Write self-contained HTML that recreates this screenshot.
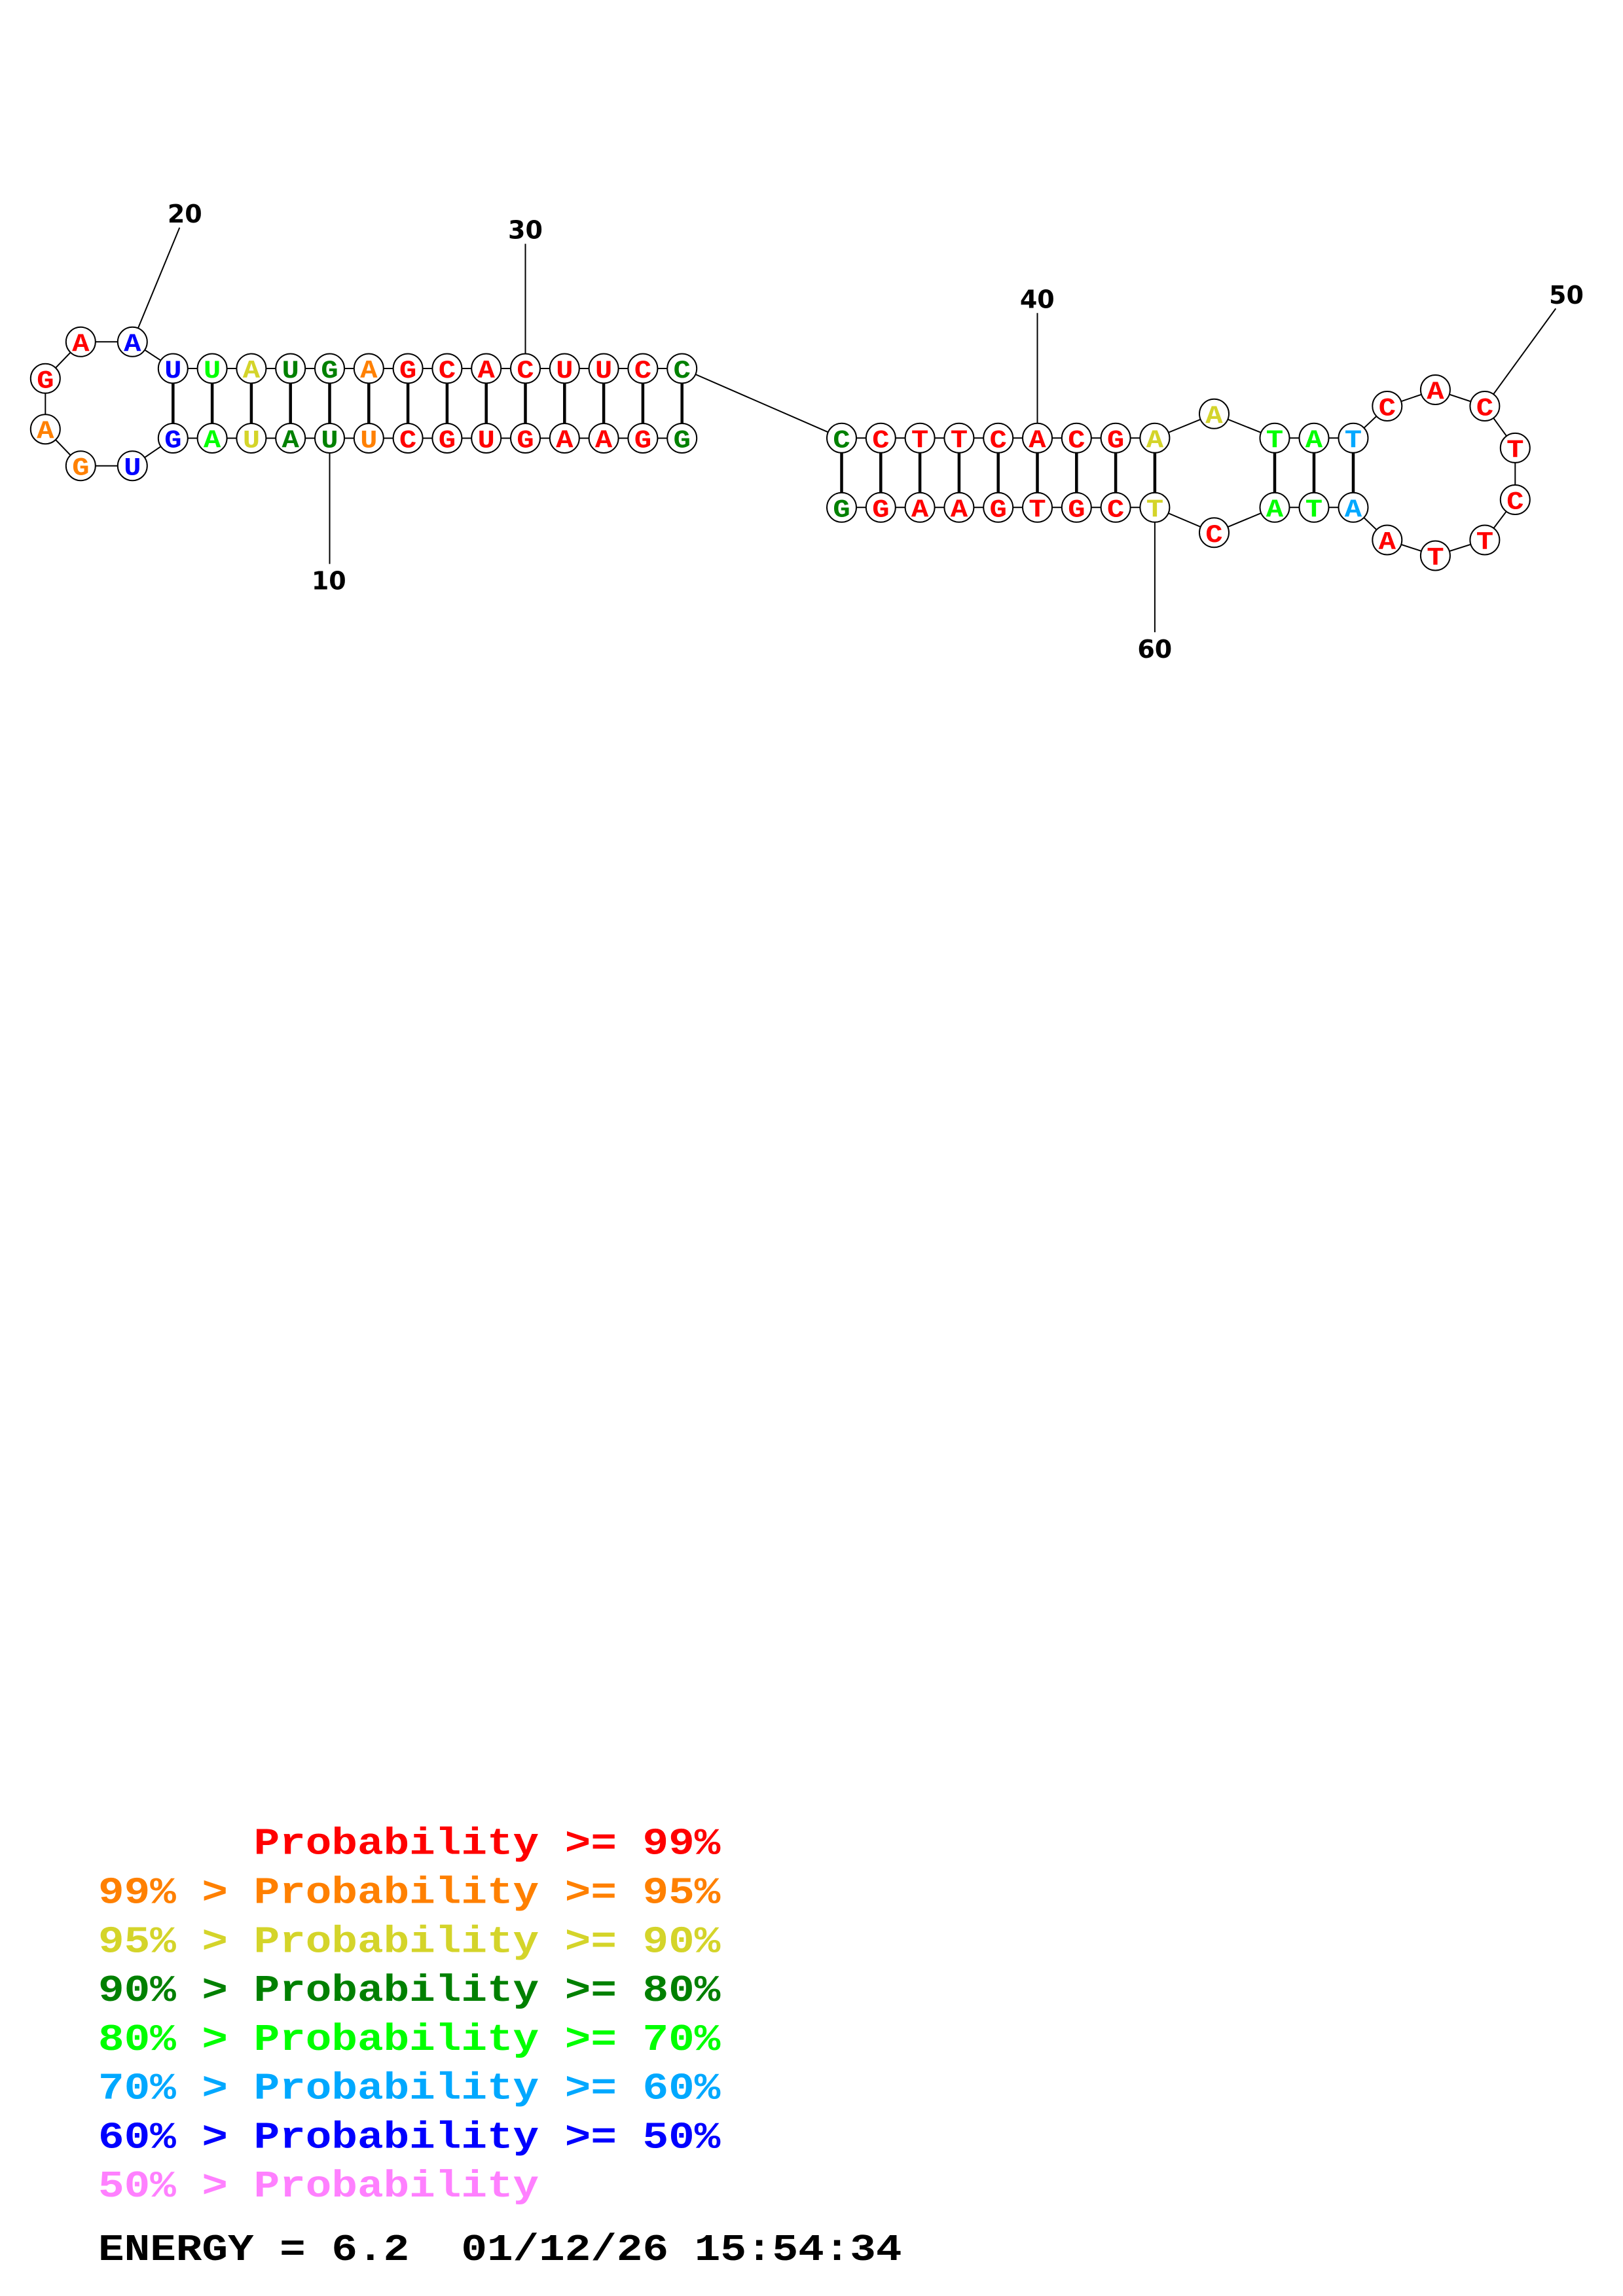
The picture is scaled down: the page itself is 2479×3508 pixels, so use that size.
<!DOCTYPE html>
<html><head><meta charset="utf-8"><style>
html,body{margin:0;padding:0;background:#fff;}
svg{display:block;}
.n{font-family:"Liberation Mono","DejaVu Sans Mono",monospace;font-weight:bold;font-size:44px;text-anchor:middle;}
.lb{font-family:"DejaVu Sans","Liberation Sans",sans-serif;font-weight:bold;font-size:38px;text-anchor:middle;fill:#000;}
.lg{font-family:"Liberation Mono","DejaVu Sans Mono",monospace;font-weight:bold;font-size:66px;white-space:pre;}
</style></head><body>
<svg width="2479" height="3508" viewBox="0 0 2479 3508" xmlns="http://www.w3.org/2000/svg">
<rect width="2479" height="3508" fill="#fff"/>
<g stroke="#000" stroke-width="2" fill="none">
<polyline points="1041.7,669.5 264.3,669.5 202.3,711.7 123.3,711.7 69.3,655.7 69.3,578.3 123.3,522.3 202.3,522.3 264.3,563 1041.7,563 1285.5,669.3 1763.9,669.3 1854.5,632.3 1947,669.3 2067,669.3 2118.8,620.5 2192.4,595.5 2267.9,620.5 2314.3,684.4 2314.3,763.5 2267.9,825 2192.4,849 2118.8,825 2067,775.3 1947,775.3 1854.5,813.8 1763.9,775.3 1285.5,775.3"/>
<line x1="503.5" y1="669.5" x2="503.5" y2="861.6"/>
<line x1="274.3" y1="347.7" x2="202.3" y2="522.3"/>
<line x1="802.5" y1="372.5" x2="802.5" y2="563"/>
<line x1="1584.5" y1="478.3" x2="1584.5" y2="669.3"/>
<line x1="2376.3" y1="471.4" x2="2267.9" y2="620.5"/>
<line x1="1763.9" y1="775.3" x2="1763.9" y2="966"/>
</g>
<g stroke="#000" stroke-width="4.5">
<line x1="264.3" y1="563" x2="264.3" y2="669.5"/>
<line x1="324.1" y1="563" x2="324.1" y2="669.5"/>
<line x1="383.9" y1="563" x2="383.9" y2="669.5"/>
<line x1="443.7" y1="563" x2="443.7" y2="669.5"/>
<line x1="503.5" y1="563" x2="503.5" y2="669.5"/>
<line x1="563.3" y1="563" x2="563.3" y2="669.5"/>
<line x1="623.1" y1="563" x2="623.1" y2="669.5"/>
<line x1="682.9" y1="563" x2="682.9" y2="669.5"/>
<line x1="742.7" y1="563" x2="742.7" y2="669.5"/>
<line x1="802.5" y1="563" x2="802.5" y2="669.5"/>
<line x1="862.3" y1="563" x2="862.3" y2="669.5"/>
<line x1="922.1" y1="563" x2="922.1" y2="669.5"/>
<line x1="981.9" y1="563" x2="981.9" y2="669.5"/>
<line x1="1041.7" y1="563" x2="1041.7" y2="669.5"/>
<line x1="1285.5" y1="669.3" x2="1285.5" y2="775.3"/>
<line x1="1345.3" y1="669.3" x2="1345.3" y2="775.3"/>
<line x1="1405.1" y1="669.3" x2="1405.1" y2="775.3"/>
<line x1="1464.9" y1="669.3" x2="1464.9" y2="775.3"/>
<line x1="1524.7" y1="669.3" x2="1524.7" y2="775.3"/>
<line x1="1584.5" y1="669.3" x2="1584.5" y2="775.3"/>
<line x1="1644.3" y1="669.3" x2="1644.3" y2="775.3"/>
<line x1="1704.1" y1="669.3" x2="1704.1" y2="775.3"/>
<line x1="1763.9" y1="669.3" x2="1763.9" y2="775.3"/>
<line x1="1947" y1="669.3" x2="1947" y2="775.3"/>
<line x1="2007" y1="669.3" x2="2007" y2="775.3"/>
<line x1="2067" y1="669.3" x2="2067" y2="775.3"/>
</g>
<g fill="#fff" stroke="#000" stroke-width="2">
<circle cx="264.3" cy="563" r="22.5"/><circle cx="324.1" cy="563" r="22.5"/><circle cx="383.9" cy="563" r="22.5"/><circle cx="443.7" cy="563" r="22.5"/><circle cx="503.5" cy="563" r="22.5"/><circle cx="563.3" cy="563" r="22.5"/><circle cx="623.1" cy="563" r="22.5"/><circle cx="682.9" cy="563" r="22.5"/><circle cx="742.7" cy="563" r="22.5"/><circle cx="802.5" cy="563" r="22.5"/><circle cx="862.3" cy="563" r="22.5"/><circle cx="922.1" cy="563" r="22.5"/><circle cx="981.9" cy="563" r="22.5"/><circle cx="1041.7" cy="563" r="22.5"/>
<circle cx="264.3" cy="669.5" r="22.5"/><circle cx="324.1" cy="669.5" r="22.5"/><circle cx="383.9" cy="669.5" r="22.5"/><circle cx="443.7" cy="669.5" r="22.5"/><circle cx="503.5" cy="669.5" r="22.5"/><circle cx="563.3" cy="669.5" r="22.5"/><circle cx="623.1" cy="669.5" r="22.5"/><circle cx="682.9" cy="669.5" r="22.5"/><circle cx="742.7" cy="669.5" r="22.5"/><circle cx="802.5" cy="669.5" r="22.5"/><circle cx="862.3" cy="669.5" r="22.5"/><circle cx="922.1" cy="669.5" r="22.5"/><circle cx="981.9" cy="669.5" r="22.5"/><circle cx="1041.7" cy="669.5" r="22.5"/>
<circle cx="202.3" cy="711.7" r="22.5"/><circle cx="123.3" cy="711.7" r="22.5"/><circle cx="69.3" cy="655.7" r="22.5"/><circle cx="69.3" cy="578.3" r="22.5"/><circle cx="123.3" cy="522.3" r="22.5"/><circle cx="202.3" cy="522.3" r="22.5"/>
<circle cx="1285.5" cy="669.3" r="22.5"/><circle cx="1345.3" cy="669.3" r="22.5"/><circle cx="1405.1" cy="669.3" r="22.5"/><circle cx="1464.9" cy="669.3" r="22.5"/><circle cx="1524.7" cy="669.3" r="22.5"/><circle cx="1584.5" cy="669.3" r="22.5"/><circle cx="1644.3" cy="669.3" r="22.5"/><circle cx="1704.1" cy="669.3" r="22.5"/><circle cx="1763.9" cy="669.3" r="22.5"/>
<circle cx="1285.5" cy="775.3" r="22.5"/><circle cx="1345.3" cy="775.3" r="22.5"/><circle cx="1405.1" cy="775.3" r="22.5"/><circle cx="1464.9" cy="775.3" r="22.5"/><circle cx="1524.7" cy="775.3" r="22.5"/><circle cx="1584.5" cy="775.3" r="22.5"/><circle cx="1644.3" cy="775.3" r="22.5"/><circle cx="1704.1" cy="775.3" r="22.5"/><circle cx="1763.9" cy="775.3" r="22.5"/>
<circle cx="1854.5" cy="632.3" r="22.5"/><circle cx="1854.5" cy="813.8" r="22.5"/>
<circle cx="1947" cy="669.3" r="22.5"/><circle cx="2007" cy="669.3" r="22.5"/><circle cx="2067" cy="669.3" r="22.5"/>
<circle cx="1947" cy="775.3" r="22.5"/><circle cx="2007" cy="775.3" r="22.5"/><circle cx="2067" cy="775.3" r="22.5"/>
<circle cx="2118.8" cy="620.5" r="22.5"/><circle cx="2192.4" cy="595.5" r="22.5"/><circle cx="2267.9" cy="620.5" r="22.5"/><circle cx="2314.3" cy="684.4" r="22.5"/><circle cx="2314.3" cy="763.5" r="22.5"/><circle cx="2267.9" cy="825" r="22.5"/><circle cx="2192.4" cy="849" r="22.5"/><circle cx="2118.8" cy="825" r="22.5"/>
</g>
<g class="n">
<!-- left top row -->
<text transform="translate(264.3,577) scale(1,0.88)" fill="#0000ff">U</text>
<text transform="translate(324.1,577) scale(1,0.88)" fill="#00ff00">U</text>
<text transform="translate(383.9,577) scale(1,0.88)" fill="#d4d42a">A</text>
<text transform="translate(443.7,577) scale(1,0.88)" fill="#008000">U</text>
<text transform="translate(503.5,577) scale(1,0.88)" fill="#008000">G</text>
<text transform="translate(563.3,577) scale(1,0.88)" fill="#ff8000">A</text>
<text transform="translate(623.1,577) scale(1,0.88)" fill="#ff0000">G</text>
<text transform="translate(682.9,577) scale(1,0.88)" fill="#ff0000">C</text>
<text transform="translate(742.7,577) scale(1,0.88)" fill="#ff0000">A</text>
<text transform="translate(802.5,577) scale(1,0.88)" fill="#ff0000">C</text>
<text transform="translate(862.3,577) scale(1,0.88)" fill="#ff0000">U</text>
<text transform="translate(922.1,577) scale(1,0.88)" fill="#ff0000">U</text>
<text transform="translate(981.9,577) scale(1,0.88)" fill="#ff0000">C</text>
<text transform="translate(1041.7,577) scale(1,0.88)" fill="#008000">C</text>
<!-- left bottom row -->
<text transform="translate(264.3,683.5) scale(1,0.88)" fill="#0000ff">G</text>
<text transform="translate(324.1,683.5) scale(1,0.88)" fill="#00ff00">A</text>
<text transform="translate(383.9,683.5) scale(1,0.88)" fill="#d4d42a">U</text>
<text transform="translate(443.7,683.5) scale(1,0.88)" fill="#008000">A</text>
<text transform="translate(503.5,683.5) scale(1,0.88)" fill="#008000">U</text>
<text transform="translate(563.3,683.5) scale(1,0.88)" fill="#ff8000">U</text>
<text transform="translate(623.1,683.5) scale(1,0.88)" fill="#ff0000">C</text>
<text transform="translate(682.9,683.5) scale(1,0.88)" fill="#ff0000">G</text>
<text transform="translate(742.7,683.5) scale(1,0.88)" fill="#ff0000">U</text>
<text transform="translate(802.5,683.5) scale(1,0.88)" fill="#ff0000">G</text>
<text transform="translate(862.3,683.5) scale(1,0.88)" fill="#ff0000">A</text>
<text transform="translate(922.1,683.5) scale(1,0.88)" fill="#ff0000">A</text>
<text transform="translate(981.9,683.5) scale(1,0.88)" fill="#ff0000">G</text>
<text transform="translate(1041.7,683.5) scale(1,0.88)" fill="#008000">G</text>
<!-- left loop -->
<text transform="translate(202.3,725.7) scale(1,0.88)" fill="#0000ff">U</text>
<text transform="translate(123.3,725.7) scale(1,0.88)" fill="#ff8000">G</text>
<text transform="translate(69.3,669.7) scale(1,0.88)" fill="#ff8000">A</text>
<text transform="translate(69.3,592.3) scale(1,0.88)" fill="#ff0000">G</text>
<text transform="translate(123.3,536.3) scale(1,0.88)" fill="#ff0000">A</text>
<text transform="translate(202.3,536.3) scale(1,0.88)" fill="#0000ff">A</text>
<!-- right top row -->
<text transform="translate(1285.5,683.3) scale(1,0.88)" fill="#008000">C</text>
<text transform="translate(1345.3,683.3) scale(1,0.88)" fill="#ff0000">C</text>
<text transform="translate(1405.1,683.3) scale(1,0.88)" fill="#ff0000">T</text>
<text transform="translate(1464.9,683.3) scale(1,0.88)" fill="#ff0000">T</text>
<text transform="translate(1524.7,683.3) scale(1,0.88)" fill="#ff0000">C</text>
<text transform="translate(1584.5,683.3) scale(1,0.88)" fill="#ff0000">A</text>
<text transform="translate(1644.3,683.3) scale(1,0.88)" fill="#ff0000">C</text>
<text transform="translate(1704.1,683.3) scale(1,0.88)" fill="#ff0000">G</text>
<text transform="translate(1763.9,683.3) scale(1,0.88)" fill="#d4d42a">A</text>
<!-- right bottom row -->
<text transform="translate(1285.5,789.3) scale(1,0.88)" fill="#008000">G</text>
<text transform="translate(1345.3,789.3) scale(1,0.88)" fill="#ff0000">G</text>
<text transform="translate(1405.1,789.3) scale(1,0.88)" fill="#ff0000">A</text>
<text transform="translate(1464.9,789.3) scale(1,0.88)" fill="#ff0000">A</text>
<text transform="translate(1524.7,789.3) scale(1,0.88)" fill="#ff0000">G</text>
<text transform="translate(1584.5,789.3) scale(1,0.88)" fill="#ff0000">T</text>
<text transform="translate(1644.3,789.3) scale(1,0.88)" fill="#ff0000">G</text>
<text transform="translate(1704.1,789.3) scale(1,0.88)" fill="#ff0000">C</text>
<text transform="translate(1763.9,789.3) scale(1,0.88)" fill="#d4d42a">T</text>
<!-- internal loop -->
<text transform="translate(1854.5,646.3) scale(1,0.88)" fill="#d4d42a">A</text>
<text transform="translate(1854.5,827.8) scale(1,0.88)" fill="#ff0000">C</text>
<text transform="translate(1947,683.3) scale(1,0.88)" fill="#00ff00">T</text>
<text transform="translate(2007,683.3) scale(1,0.88)" fill="#00ff00">A</text>
<text transform="translate(2067,683.3) scale(1,0.88)" fill="#00a8ff">T</text>
<text transform="translate(1947,789.3) scale(1,0.88)" fill="#00ff00">A</text>
<text transform="translate(2007,789.3) scale(1,0.88)" fill="#00ff00">T</text>
<text transform="translate(2067,789.3) scale(1,0.88)" fill="#00a8ff">A</text>
<!-- hairpin -->
<text transform="translate(2118.8,634.5) scale(1,0.88)" fill="#ff0000">C</text>
<text transform="translate(2192.4,609.5) scale(1,0.88)" fill="#ff0000">A</text>
<text transform="translate(2267.9,634.5) scale(1,0.88)" fill="#ff0000">C</text>
<text transform="translate(2314.3,698.4) scale(1,0.88)" fill="#ff0000">T</text>
<text transform="translate(2314.3,777.5) scale(1,0.88)" fill="#ff0000">C</text>
<text transform="translate(2267.9,839) scale(1,0.88)" fill="#ff0000">T</text>
<text transform="translate(2192.4,863) scale(1,0.88)" fill="#ff0000">T</text>
<text transform="translate(2118.8,839) scale(1,0.88)" fill="#ff0000">A</text>
</g>
<g class="lb">
<text x="502.3" y="900.4">10</text>
<text x="282.3" y="340">20</text>
<text x="802.5" y="364.3">30</text>
<text x="1584.3" y="470.7">40</text>
<text x="2392.5" y="463.8">50</text>
<text x="1763.8" y="1005">60</text>
</g>
<g class="lg">
<text transform="translate(150,2832.5) scale(1,0.87)" fill="#ff0000" xml:space="preserve">      Probability &gt;= 99%</text>
<text transform="translate(150,2907.5) scale(1,0.87)" fill="#ff8000" xml:space="preserve">99% &gt; Probability &gt;= 95%</text>
<text transform="translate(150,2982.3) scale(1,0.87)" fill="#d4d42a" xml:space="preserve">95% &gt; Probability &gt;= 90%</text>
<text transform="translate(150,3057) scale(1,0.87)" fill="#008000" xml:space="preserve">90% &gt; Probability &gt;= 80%</text>
<text transform="translate(150,3131.8) scale(1,0.87)" fill="#00ff00" xml:space="preserve">80% &gt; Probability &gt;= 70%</text>
<text transform="translate(150,3206.6) scale(1,0.87)" fill="#00a8ff" xml:space="preserve">70% &gt; Probability &gt;= 60%</text>
<text transform="translate(150,3281.5) scale(1,0.87)" fill="#0000ff" xml:space="preserve">60% &gt; Probability &gt;= 50%</text>
<text transform="translate(150,3356.2) scale(1,0.87)" fill="#ff80ff" xml:space="preserve">50% &gt; Probability</text>
<text transform="translate(150,3453) scale(1,0.87)" fill="#000000" xml:space="preserve">ENERGY = 6.2  01/12/26 15:54:34</text>
</g>
</svg>
</body></html>
